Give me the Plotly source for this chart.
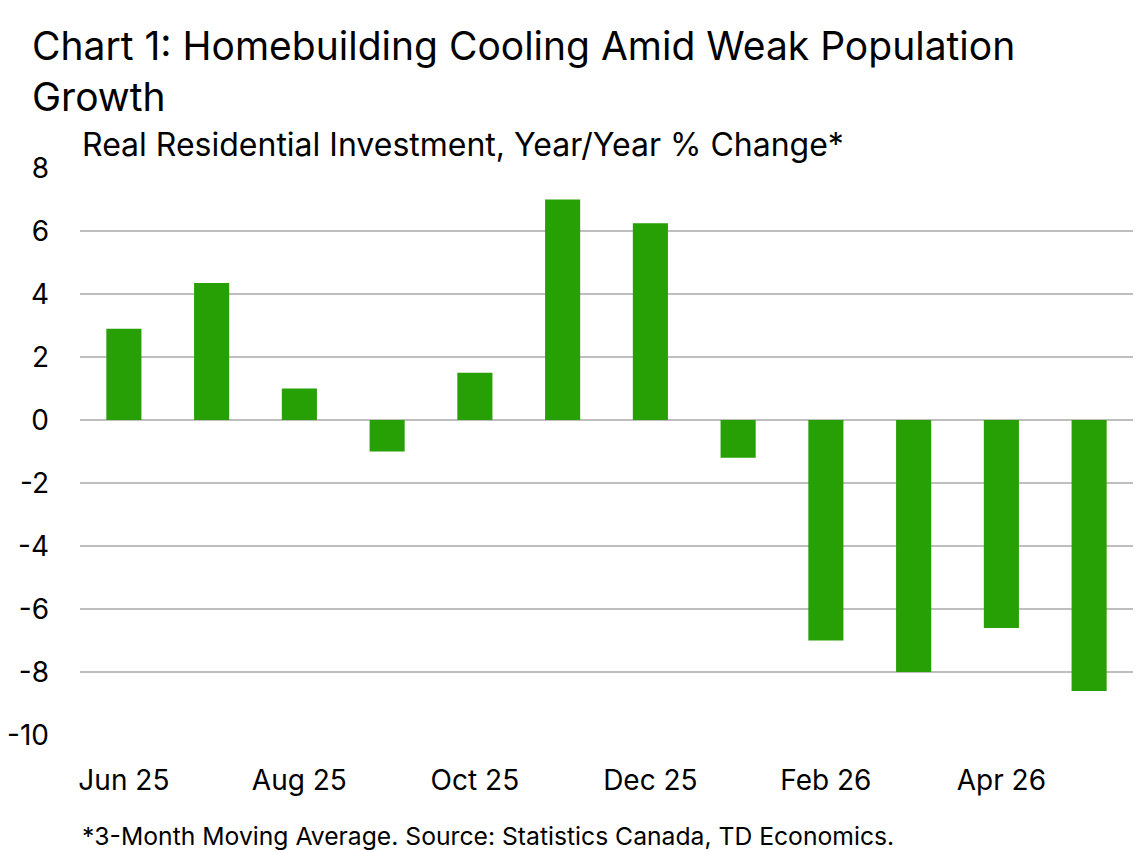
import plotly.graph_objects as go

months = ["Jun 25", "Jul 25", "Aug 25", "Sep 25", "Oct 25", "Nov 25",
          "Dec 25", "Jan 26", "Feb 26", "Mar 26", "Apr 26", "May 26"]
yoy_change = [2.9, 4.35, 1.0, -1.0, 1.5, 7.0, 6.25, -1.2, -7.0, -8.0, -6.6, -8.6]
tick_labels = ["Jun 25", "Aug 25", "Oct 25", "Dec 25", "Feb 26", "Apr 26"]
y_ticks = [8, 6, 4, 2, 0, -2, -4, -6, -8, -10]

font_name = "Inter"

fig = go.Figure()
fig.add_trace(go.Bar(
    x=months, y=yoy_change,
    marker=dict(color="#26A005", line=dict(width=0)),
    width=0.4,
))

# page has an 8px body margin, so the figure is sized to fit the window
fig.update_layout(
    width=1134, height=842,
    paper_bgcolor="white", plot_bgcolor="white",
    margin=dict(l=72, r=9, t=160, b=115),
    showlegend=False,
    font=dict(family=font_name, color="black", size=28),
)

fig.update_xaxes(
    type="category",
    tickvals=tick_labels, ticktext=tick_labels,
    showgrid=False, showline=False, ticks="",
    tickfont=dict(size=28),
    ticklabelstandoff=26,
    automargin=False,
)
fig.update_yaxes(
    range=[-10, 8],
    tickvals=y_ticks, ticktext=[str(v) for v in y_ticks],
    showgrid=True, gridcolor="#BEBEBE", gridwidth=2,
    zeroline=True, zerolinecolor="#BEBEBE", zerolinewidth=2,
    showline=False, ticks="",
    tickfont=dict(size=28),
    ticklabelstandoff=30,
    automargin=False,
)

# title as an annotation so the two lines sit where expected
fig.add_annotation(
    text="Chart 1: Homebuilding Cooling Amid Weak Population<br>Growth",
    xref="paper", yref="paper", x=0.0, y=1.0, xanchor="left", yanchor="top",
    align="left", xshift=-50, yshift=148, showarrow=False,
    font=dict(size=39),
)
fig.add_annotation(
    text="Real Residential Investment, Year/Year % Change*",
    xref="paper", yref="paper", x=0.0, y=1.0, xanchor="left", yanchor="bottom",
    xshift=0, yshift=2, showarrow=False, font=dict(size=32),
)
fig.add_annotation(
    text="*3-Month Moving Average. Source: Statistics Canada, TD Economics.",
    xref="paper", yref="paper", x=0.0, y=0, xanchor="left", yanchor="top",
    xshift=0, yshift=-84, showarrow=False, font=dict(size=24.7),
)

fig.write_html("out.html")
